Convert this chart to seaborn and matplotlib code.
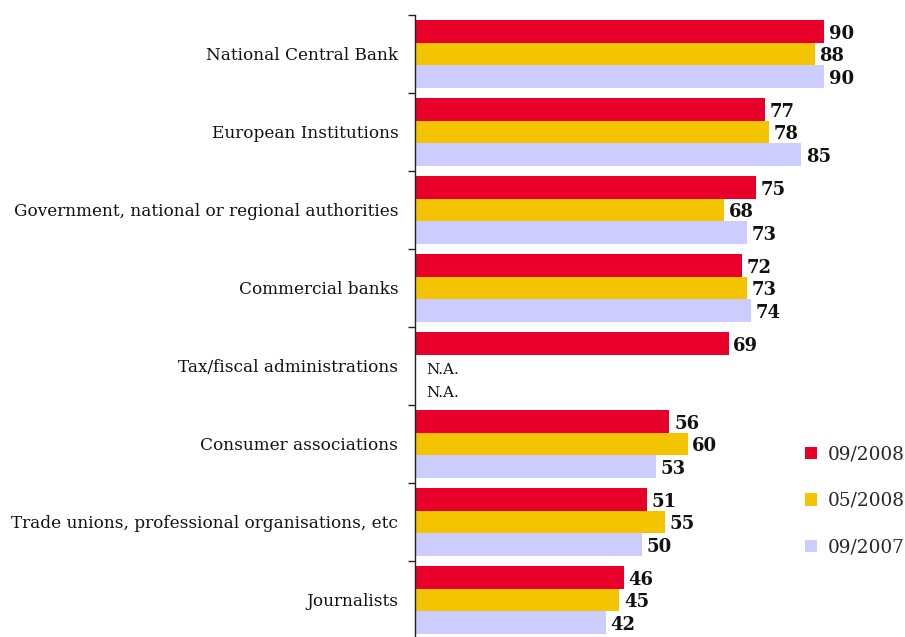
import numpy as np
import pandas as pd
import matplotlib
matplotlib.use("Agg")
import matplotlib.pyplot as plt
import seaborn as sns

# Trust in institutions, % of respondents per survey wave
categories = [
    "National Central Bank",
    "European Institutions",
    "Government, national or regional authorities",
    "Commercial banks",
    "Tax/fiscal administrations",
    "Consumer associations",
    "Trade unions, professional organisations, etc",
    "Journalists",
]
waves = ["09/2008", "05/2008", "09/2007"]
values_0908 = [90, 77, 75, 72, 69, 56, 51, 46]
values_0508 = [88, 78, 68, 73, np.nan, 60, 55, 45]
values_0907 = [90, 85, 73, 74, np.nan, 53, 50, 42]
colors = ["#E8002A", "#F5C400", "#CCCCFF"]

df = pd.DataFrame({
    "category": categories * 3,
    "wave": [w for w in waves for _ in categories],
    "value": values_0908 + values_0508 + values_0907,
})

sns.set_theme(style="white")
plt.rcParams["font.family"] = ["DejaVu Serif"]

fig = plt.figure(figsize=(9.05, 6.37), dpi=100)
ax = fig.add_axes([415 / 905, -2 / 637, 490 / 905, 624 / 637])

bar_width = 0.87
sns.barplot(data=df, y="category", x="value", hue="wave", order=categories,
            hue_order=waves, palette=colors, orient="h", width=bar_width,
            saturation=1, linewidth=0, edgecolor="none", ax=ax, legend=True)

ax.set_xlim(0, 490 / 4.544)
ax.set_ylim(len(categories) - 0.5, -0.5)
ax.set_xlabel("")
ax.set_ylabel("")
ax.set_xticks([])

for side in ["top", "right", "bottom"]:
    ax.spines[side].set_visible(False)
ax.spines["left"].set_color("#222222")
ax.spines["left"].set_linewidth(1.0)

ax.set_yticks(range(len(categories)))
ax.set_yticklabels(categories, fontsize=12.2, color="#111111")
ax.tick_params(axis="y", which="major", length=0, pad=12)
ax.set_yticks(np.arange(-0.5, len(categories), 1.0), minor=True)
ax.tick_params(axis="y", which="minor", length=5, width=1, color="#222222",
               direction="out", left=True)

# value labels at the end of each bar
series = [values_0908, values_0508, values_0907]
step = bar_width / len(waves)
for j, vals in enumerate(series):
    offset = (j - 1) * step
    for i, v in enumerate(vals):
        y = i + offset
        if np.isnan(v):
            ax.text(2.5, y + 0.05, "N.A.", va="center", ha="left", fontsize=11,
                    color="#111111")
        else:
            ax.text(v + 1.0, y + 0.03, f"{int(v)}", va="center", ha="left",
                    fontsize=13, fontweight="bold", color="#111111")

leg = ax.legend(loc="upper left", bbox_to_anchor=((796 - 415) / 490, 1 - 421 / 624),
                frameon=False, fontsize=13.3, handlelength=0.65, handleheight=0.65,
                handletextpad=0.55, labelspacing=1.55, borderpad=0)

fig.savefig("out.png", dpi=100, facecolor="white")
